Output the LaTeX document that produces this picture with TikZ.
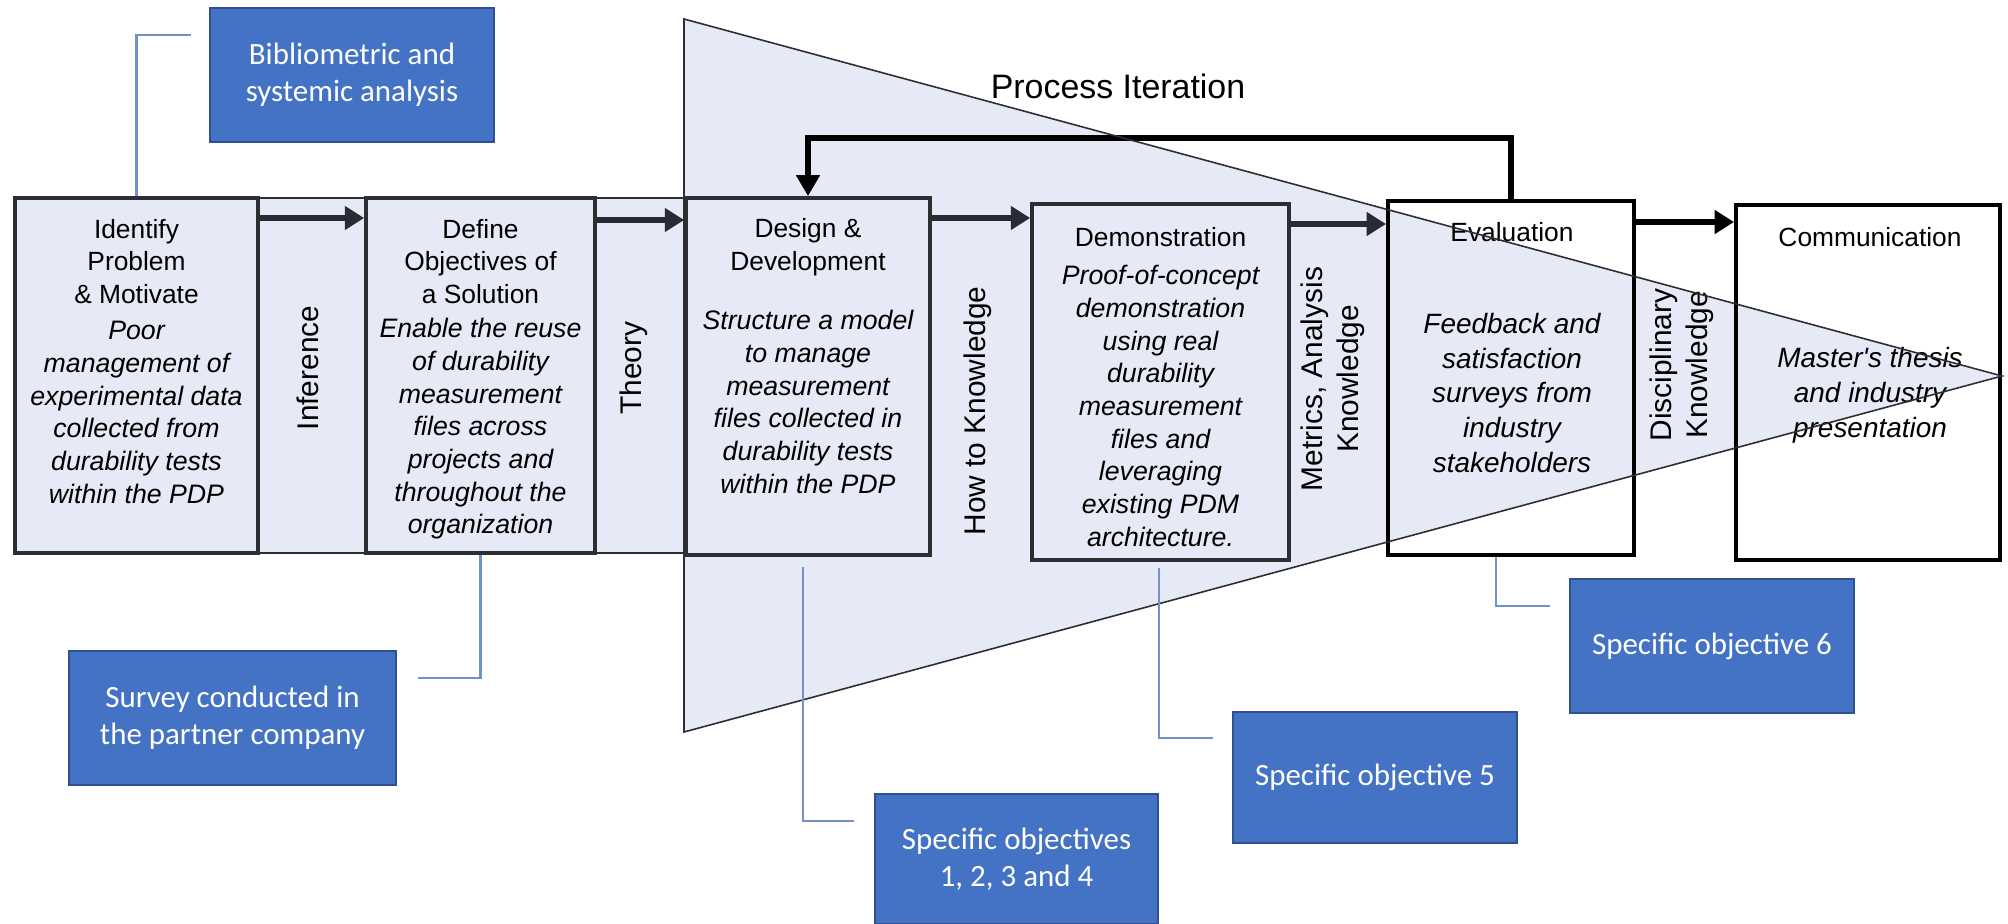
\documentclass[tikz,border=0pt]{standalone}
\usepackage{fontspec}
\setmainfont{Liberation Sans}
\newfontfamily\calfont{Carlito}
\usetikzlibrary{arrows.meta,calc}

\definecolor{paleblue}{RGB}{230,234,246}
\definecolor{boxline}{RGB}{45,45,50}
\definecolor{arrowink}{RGB}{40,42,52}
\definecolor{noteblue}{RGB}{68,114,196}
\definecolor{noteedge}{RGB}{47,82,143}
\definecolor{leader}{RGB}{112,146,200}

\begin{document}
\begin{tikzpicture}[x=0.02cm,y=-0.02cm,
  pbox/.style={draw=boxline, line width=2.1pt, fill=paleblue, inner sep=0pt},
  obox/.style={draw=black, line width=2.3pt, inner sep=0pt},
  head/.style={font=\fontsize{15}{18.6}\selectfont, align=center, inner sep=0pt},
  body/.style={font=\fontsize{15.2}{18.6}\selectfont\itshape, align=center, inner sep=0pt},
  bodywide/.style={font=\fontsize{15.9}{19.9}\selectfont\itshape, align=center, inner sep=0pt},
  gap/.style={font=\fontsize{17}{20.5}\selectfont, align=center, rotate=90, inner sep=0pt},
  flow/.style={draw=arrowink, line width=3.4pt, -{Triangle[length=11pt,width=13pt]}},
  loopback/.style={draw=black, line width=3.4pt, -{Triangle[length=12pt,width=13pt]}},
  note/.style={fill=noteblue, draw=noteedge, line width=0.8pt, text=white,
    font=\calfont\fontsize{17.6}{21}\selectfont, align=center, inner sep=0pt},
  lead/.style={draw=leader, line width=1.4pt},
  funnel/.style={draw=boxline, line width=0.9pt},
]
\useasboundingbox (0,0) rectangle (2008,923);
\fill[white] (0,0) rectangle (2008,923);

% funnel corners
\coordinate (fA) at (684,19);
\coordinate (fB) at (2002,376);
\coordinate (fC) at (684,732);
\fill[paleblue] (fA) -- (fB) -- (fC) -- cycle;

% shaded band behind the first steps
\fill[paleblue] (258,198) rectangle (686,553);
\draw[boxline, line width=1.3pt] (258,198) -- (686,198);
\draw[boxline, line width=1.3pt] (258,553) -- (686,553);

% process steps
\node[pbox, minimum width=4.86cm, minimum height=7.1cm] (b1) at (136.5,375.5) {};
\node[pbox, minimum width=4.58cm, minimum height=7.1cm] (b2) at (480.5,375.5) {};
\node[pbox, minimum width=4.88cm, minimum height=7.14cm] (b3) at (808,376.5) {};
\node[pbox, minimum width=5.14cm, minimum height=7.12cm] (b4) at (1160.5,382) {};
\node[obox, minimum width=4.92cm, minimum height=7.08cm] (b5) at (1511,378) {};
\node[obox, minimum width=5.28cm, minimum height=7.1cm] (b6) at (1868,382.5) {};

% nominal sequence arrows
\coordinate (r1) at (0,218);
\coordinate (r2) at (0,220);
\coordinate (r3) at (0,218);
\coordinate (r4) at (0,224);
\coordinate (r5) at (0,222);
\draw[flow] (b1.east |- r1) -- (b2.west |- r1);
\draw[flow] (b2.east |- r2) -- (b3.west |- r2);
\draw[flow] (b3.east |- r3) -- (b4.west |- r3);
\draw[flow] (b4.east |- r4) -- (b5.west |- r4);
\draw[flow, draw=black] (b5.east |- r5) -- (b6.west |- r5);

% iteration loop
\coordinate (fb) at (0,138);
\draw[loopback] (b5.north) -- (b5.north |- fb) -| (b3.north);
\node[font=\fontsize{19.3}{23}\selectfont, inner sep=0pt] (pi) at (1118,86) {Process Iteration};

% step texts
\node[head] (t1) at (136.5,261.5) {Identify\\Problem\\\& Motivate};
\node[body] (d1) at (136.5,412.5) {Poor\\management of\\experimental data\\collected from\\durability tests\\within the PDP};
\node[head] (t2) at (480.5,261.5) {Define\\Objectives of\\a Solution};
\node[body] (d2) at (480.5,429) {Enable the reuse\\of durability\\measurement\\files across\\projects and\\throughout the\\organization};
\node[head] (t3) at (808,247.5) {Design \&\\Development};
\node[body] (d3) at (808,402) {Structure a model\\to manage\\measurement\\files collected in\\durability tests\\within the PDP};
\node[head] (t4) at (1160.5,237) {Demonstration};
\node[body] (d4) at (1160.5,406) {Proof-of-concept\\demonstration\\using real\\durability\\measurement\\files and\\leveraging\\existing PDM\\architecture.};
\node[head] (t5) at (1512,232) {Evaluation};
\node[bodywide] (d5) at (1512,393) {Feedback and\\satisfaction\\surveys from\\industry\\stakeholders};
\node[head] (t6) at (1870,237) {Communication};
\node[bodywide] (d6) at (1870,395) {Master\textquotesingle s thesis\\and industry\\presentation};

% knowledge labels between steps
\node[gap] (g1) at (308,368) {Inference};
\node[gap] (g2) at (634,368) {Theory};
\node[gap] (g3) at (978,411) {How to Knowledge};
\node[gap] (g4) at (1333,379) {Metrics, Analysis\\Knowledge};
\node[gap] (g5) at (1681.5,365) {Disciplinary\\Knowledge};

% funnel outline
\draw[funnel] (fA) -- (fB) -- (fC) -- cycle;

% annotation boxes
\node[note, minimum width=5.68cm, minimum height=2.68cm] (bib) at (352,75) {Bibliometric and\\systemic analysis};
\node[note, minimum width=6.54cm, minimum height=2.68cm] (sur) at (232.5,718) {Survey conducted in\\the partner company};
\node[note, minimum width=5.66cm, minimum height=2.6cm] (o14) at (1016.5,859) {Specific objectives\\1, 2, 3 and 4};
\node[note, minimum width=5.68cm, minimum height=2.62cm] (o5) at (1375,777.5) {Specific objective 5};
\node[note, minimum width=5.68cm, minimum height=2.68cm] (o6) at (1712,646) {Specific objective 6};

% leader lines
\coordinate (l1) at (191,35);
\draw[lead] (b1.north) -- (b1.north |- l1) -- (l1);
\coordinate (l2) at (418,678);
\draw[lead] (b2.south) -- (b2.south |- l2) -- (l2);
\coordinate (s3) at (803,567);
\coordinate (l3) at (854,821);
\draw[lead] (s3) -- (s3 |- l3) -- (l3);
\coordinate (s4) at (1159,568);
\coordinate (l4) at (1213,738);
\draw[lead] (s4) -- (s4 |- l4) -- (l4);
\coordinate (s5) at (1496,557);
\coordinate (l5) at (1550,606);
\draw[lead] (s5) -- (s5 |- l5) -- (l5);
\end{tikzpicture}
\end{document}
